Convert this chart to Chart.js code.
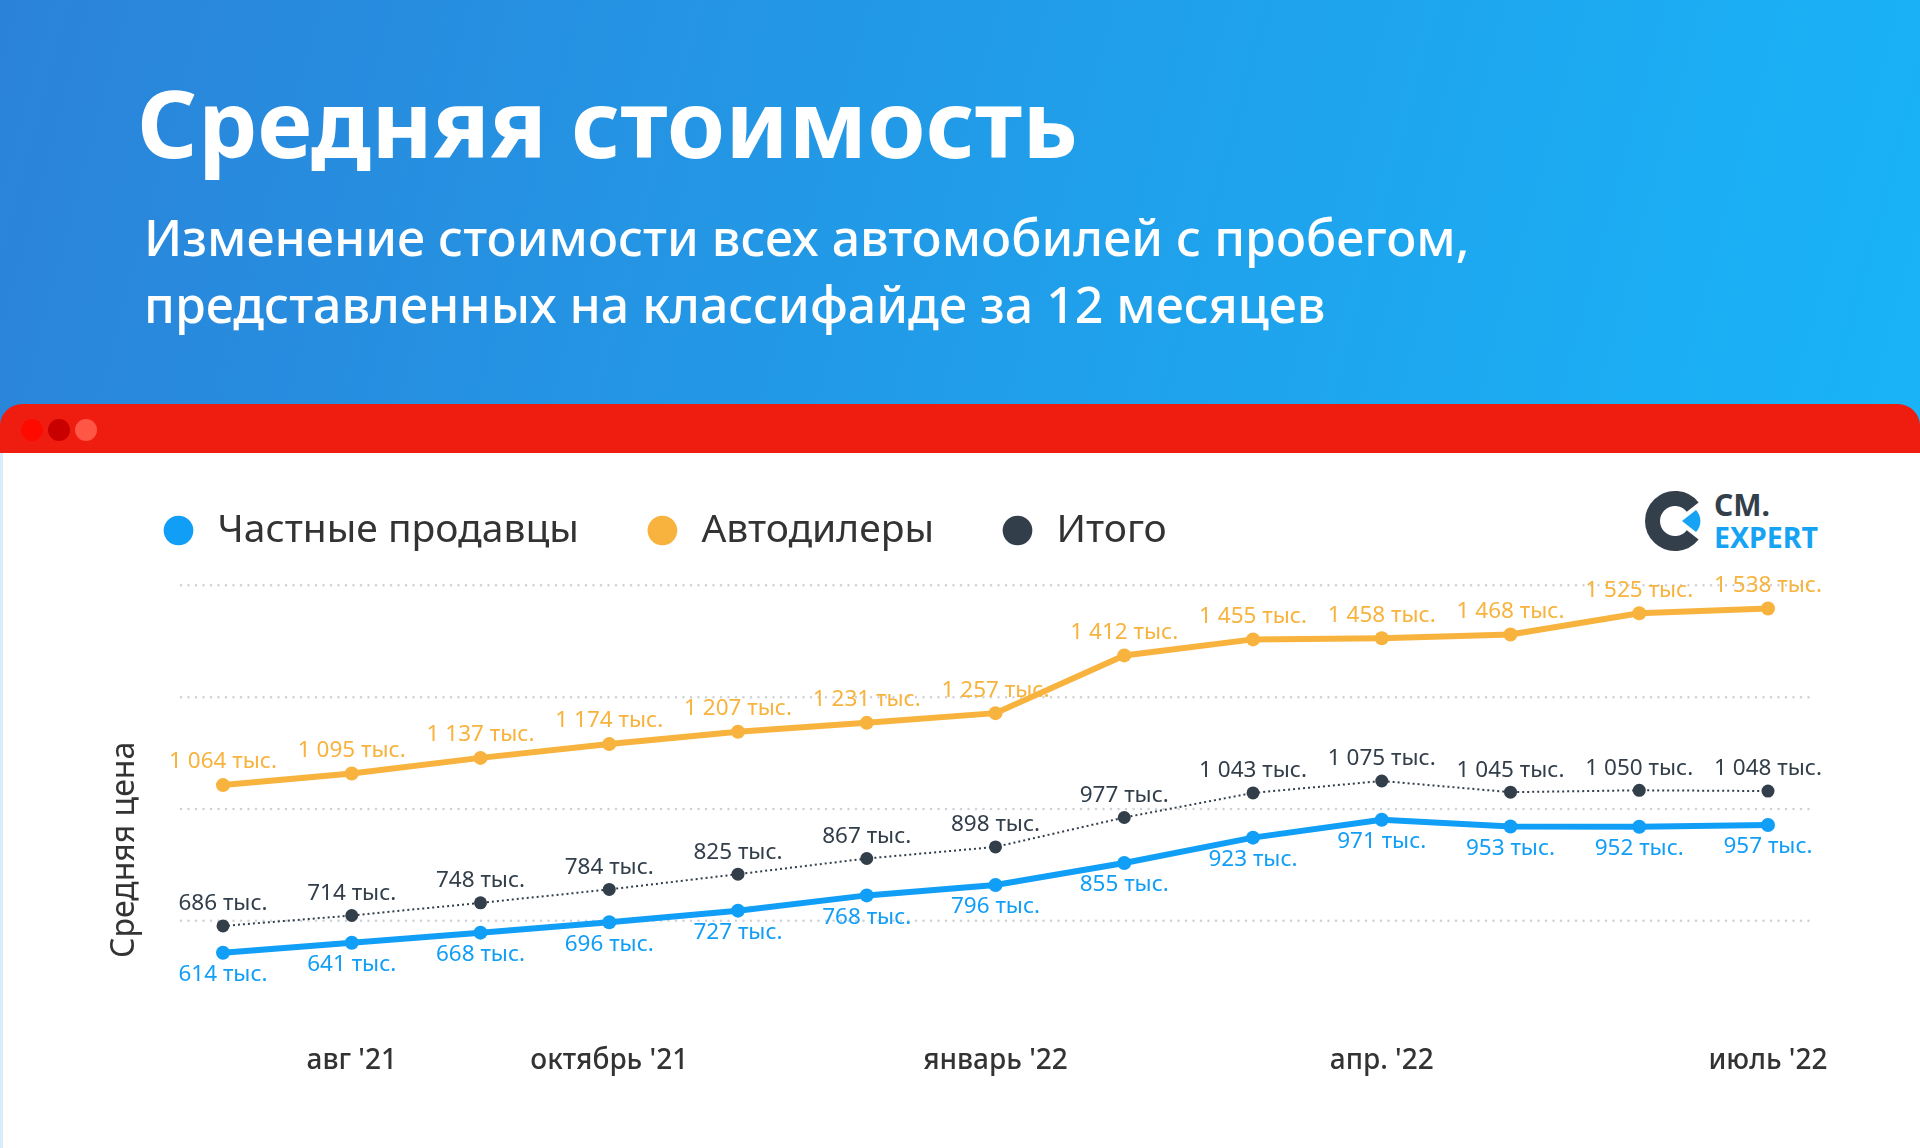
<!DOCTYPE html>
<html lang="ru">
<head>
<meta charset="utf-8">
<title>Средняя стоимость</title>
<script src="https://cdn.jsdelivr.net/npm/chart.js@4.4.0/dist/chart.umd.min.js"></script>
<style>
  html, body { margin: 0; padding: 0; }
  body {
    width: 1920px; height: 1148px; overflow: hidden; position: relative;
    background: #fff; font-family: "Noto Sans", sans-serif;
  }
  .header {
    position: absolute; left: 0; top: 0; width: 1920px; height: 430px;
    background: linear-gradient(105deg, #2b83d9 0%, #219ce8 50%, #19b4f7 100%);
  }
  .header h1 {
    position: absolute; left: 137px; top: 58px; margin: 0;
    font-size: 94px; font-weight: 700; line-height: normal; color: #fff;
  }
  .header p {
    position: absolute; left: 144px; top: 204px; margin: 0;
    font-size: 50px; font-weight: 500; line-height: 67px; color: #fff;
  }
  .bar {
    position: absolute; left: 0; top: 404px; width: 1920px; height: 49px;
    background: #ee1d10; border-radius: 22px 22px 0 0;
  }
  .bar span {
    position: absolute; top: 15px; width: 22px; height: 22px; border-radius: 50%;
  }
  .panel {
    position: absolute; left: 0; top: 453px; width: 1920px; height: 695px;
    background: #fff; border-left: 3px solid #d9ecfa; box-sizing: border-box;
  }
  .logo { position: absolute; left: 1642px; top: 488px; }
  #chart { position: absolute; left: 0; top: 0; }
</style>
</head>
<body>
<div class="header">
  <h1>Средняя стоимость</h1>
  <p>Изменение стоимости всех автомобилей с пробегом,<br>представленных на классифайде за 12 месяцев</p>
</div>
<div class="bar">
  <span style="left:21px;background:#ff0a00"></span>
  <span style="left:48px;background:#c80000"></span>
  <span style="left:75px;background:#ff5645"></span>
</div>
<div class="panel"></div>
<svg class="logo" width="200" height="70" viewBox="0 0 200 70">
  <path d="M 50.7 46.9 A 22.5 22.5 0 1 1 50.7 19.1" fill="none" stroke="#333f4b" stroke-width="15"/>
  <path d="M 40 33 L 54 22 A 16 16 0 0 1 54 44 Z" fill="#16a3f4"/>
  <text x="72" y="28" font-family="Noto Sans" font-weight="700" font-size="30" fill="#333f4b">CM.</text>
  <text x="72" y="60" font-family="Noto Sans" font-weight="700" font-size="29" fill="#16a3f4" textLength="104" lengthAdjust="spacingAndGlyphs">EXPERT</text>
</svg>
<canvas id="chart" width="1920" height="1148"></canvas>

<script>
// months July '21 .. July '22, only some are labelled on the axis
const months = ["", "авг '21", "", "октябрь '21", "", "", "январь '22", "", "", "апр. '22", "", "", "июль '22"];
const privateSellers = [614, 641, 668, 696, 727, 768, 796, 855, 923, 971, 953, 952, 957];
const dealers = [1064, 1095, 1137, 1174, 1207, 1231, 1257, 1412, 1455, 1458, 1468, 1525, 1538];
const total = [686, 714, 748, 784, 825, 867, 898, 977, 1043, 1075, 1045, 1050, 1048];
const gridValues = [700, 1000, 1300, 1600];

const BLUE = "#119ef6";
const ORANGE = "#f7b33d";
const DARK = "#323e4a";

const fmt = (v) => {
  const k = Math.floor(v / 1000);
  const r = v % 1000;
  return (k > 0 ? k + " " + String(r).padStart(3, "0") : String(r)) + " тыс.";
};

// dotted horizontal guides, a bit wider than the plot
const dottedGrid = {
  id: "dottedGrid",
  beforeDatasetsDraw(chart) {
    const { ctx, chartArea, scales } = chart;
    ctx.save();
    ctx.strokeStyle = "#cdd1d5";
    ctx.lineWidth = 2.5;
    ctx.lineCap = "round";
    ctx.setLineDash([0, 7.5]);
    gridValues.forEach((v) => {
      const y = scales.y.getPixelForValue(v);
      ctx.beginPath();
      ctx.moveTo(chartArea.left - 42, y);
      ctx.lineTo(chartArea.right + 44, y);
      ctx.stroke();
    });
    ctx.restore();
  },
};

// value labels above / below each point
const pointLabels = {
  id: "pointLabels",
  afterDatasetsDraw(chart) {
    const ctx = chart.ctx;
    chart.data.datasets.forEach((ds, i) => {
      const meta = chart.getDatasetMeta(i);
      ctx.save();
      ctx.font = '400 22.5px "Noto Sans"';
      ctx.fillStyle = ds.borderColor;
      ctx.textAlign = "center";
      ctx.textBaseline = "middle";
      meta.data.forEach((pt, j) => {
        ctx.fillText(fmt(ds.data[j]), pt.x, pt.y + ds.labelShift);
      });
      ctx.restore();
    });
  },
};

const data = {
  labels: months,
  datasets: [
    {
      label: "Частные продавцы",
      data: privateSellers,
      borderColor: BLUE,
      backgroundColor: BLUE,
      borderWidth: 6,
      pointRadius: 7,
      pointBorderWidth: 0,
      labelShift: 22,
      clip: false,
    },
    {
      label: "Автодилеры",
      data: dealers,
      borderColor: ORANGE,
      backgroundColor: ORANGE,
      borderWidth: 6,
      pointRadius: 7,
      pointBorderWidth: 0,
      labelShift: -23,
      clip: false,
    },
    {
      label: "Итого",
      data: total,
      borderColor: DARK,
      backgroundColor: DARK,
      borderWidth: 2,
      borderDash: [2, 3],
      pointRadius: 6.5,
      pointBorderWidth: 0,
      labelShift: -22,
      clip: false,
    },
  ],
};

const config = {
  type: "line",
  data: data,
  options: {
    responsive: false,
    animation: false,
    devicePixelRatio: 1,
    layout: {
      padding: { top: 447, left: 95, right: 152, bottom: 40 },
    },
    scales: {
      x: {
        grid: { display: false },
        border: { display: false },
        ticks: {
          autoSkip: false,
          maxRotation: 0,
          padding: 78,
          color: "#333",
          font: { family: "Noto Sans", size: 28, weight: 500 },
        },
        afterFit: (scale) => {
          scale.height = 150;
        },
      },
      y: {
        min: 600,
        max: 1668,
        grid: { display: false },
        border: { display: false },
        ticks: { display: false },
        title: {
          display: true,
          text: "Средняя цена",
          align: "start",
          color: "#333",
          padding: { top: 11, bottom: 0 },
          font: { family: "Noto Sans", size: 32, lineHeight: 1.2 },
        },
        afterFit: (scale) => {
          scale.width = 128;
        },
      },
    },
    plugins: {
      legend: {
        position: "top",
        align: "start",
        labels: {
          usePointStyle: true,
          pointStyle: "circle",
          boxWidth: 39,
          boxHeight: 21,
          padding: 64,
          color: "#333",
          font: { family: "Noto Sans", size: 39 },
          generateLabels: (chart) =>
            Chart.defaults.plugins.legend.labels
              .generateLabels(chart)
              .map((l) => ({ ...l, lineWidth: 0 })),
        },
      },
      tooltip: { enabled: false },
    },
  },
  plugins: [dottedGrid, pointLabels],
};

const ctx = document.getElementById("chart").getContext("2d");
new Chart(ctx, config);
</script>
</body>
</html>
